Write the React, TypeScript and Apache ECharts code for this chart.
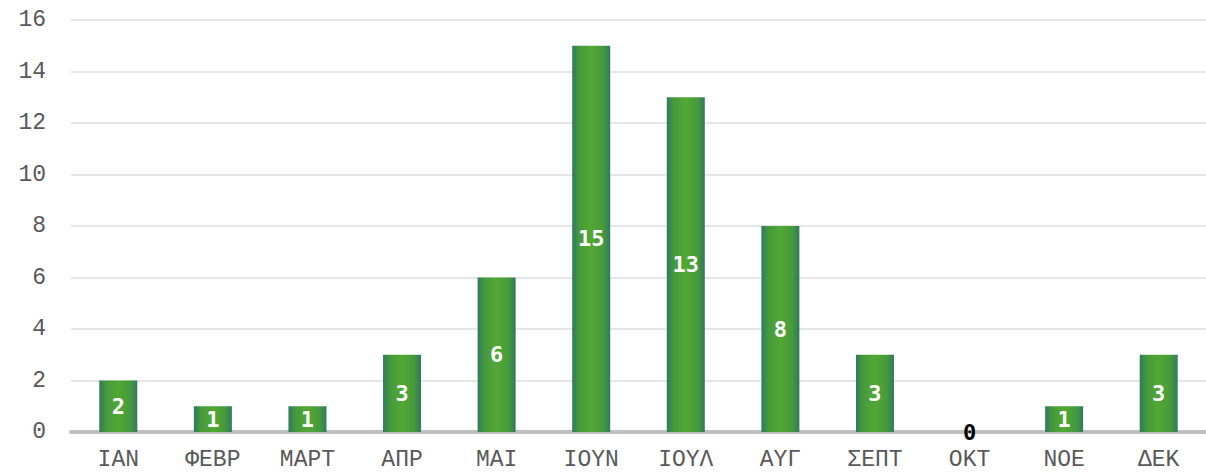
import React, { useEffect, useRef } from "react";
import * as echarts from "echarts";

const categories = ["ΙΑΝ", "ΦΕΒΡ", "ΜΑΡΤ", "ΑΠΡ", "ΜΑΙ", "ΙΟΥΝ", "ΙΟΥΛ", "ΑΥΓ", "ΣΕΠΤ", "ΟΚΤ", "ΝΟΕ", "ΔΕΚ"];
const values = [2, 1, 1, 3, 6, 15, 13, 8, 3, 0, 1, 3];
const yTicks = { min: 0, max: 16, interval: 2 };

const monoFont = '"Courier New", "Liberation Mono", monospace';

export default function App() {
  const ref = useRef<HTMLDivElement>(null);
  useEffect(() => {
    if (!ref.current) return;
    const chart = echarts.init(ref.current, null, { renderer: "svg" });
    const barGradient = new echarts.graphic.LinearGradient(0, 0, 1, 0, [
      { offset: 0, color: "#2e7a60" },
      { offset: 0.18, color: "#45993c" },
      { offset: 0.5, color: "#52a832" },
      { offset: 0.82, color: "#45993c" },
      { offset: 1, color: "#2e7a60" },
    ]);
    chart.setOption({
      animation: false,
      backgroundColor: "#ffffff",
      grid: { left: 71, right: 0, top: 20, bottom: 43, containLabel: false },
      xAxis: {
        type: "category",
        data: categories,
        axisLine: { show: true, lineStyle: { color: "#bfbfbf", width: 4 } },
        axisTick: { show: false },
        axisLabel: {
          color: "#595959",
          fontFamily: monoFont,
          fontSize: 23,
          margin: 16,
        },
      },
      yAxis: {
        type: "value",
        min: yTicks.min,
        max: yTicks.max,
        interval: yTicks.interval,
        axisLine: { show: false },
        axisTick: { show: false },
        splitLine: { lineStyle: { color: "#dedede", width: 1.5 } },
        axisLabel: {
          color: "#595959",
          fontFamily: monoFont,
          fontSize: 23,
          margin: 25,
        },
      },
      series: [
        {
          type: "bar",
          barWidth: 38,
          data: values.map((v) => ({
            value: v,
            label: { color: v === 0 ? "#000000" : "#ffffff" },
          })),
          itemStyle: { color: barGradient },
          label: {
            show: true,
            position: "inside",
            fontFamily: '"DejaVu Sans Mono", monospace',
            fontWeight: "bold",
            fontSize: 22,
          },
        },
      ],
    });
    return () => chart.dispose();
  }, []);
  return (
    <div
      ref={ref}
      style={{ position: "fixed", left: 0, top: 0, width: 1206, height: 475 }}
    />
  );
}
